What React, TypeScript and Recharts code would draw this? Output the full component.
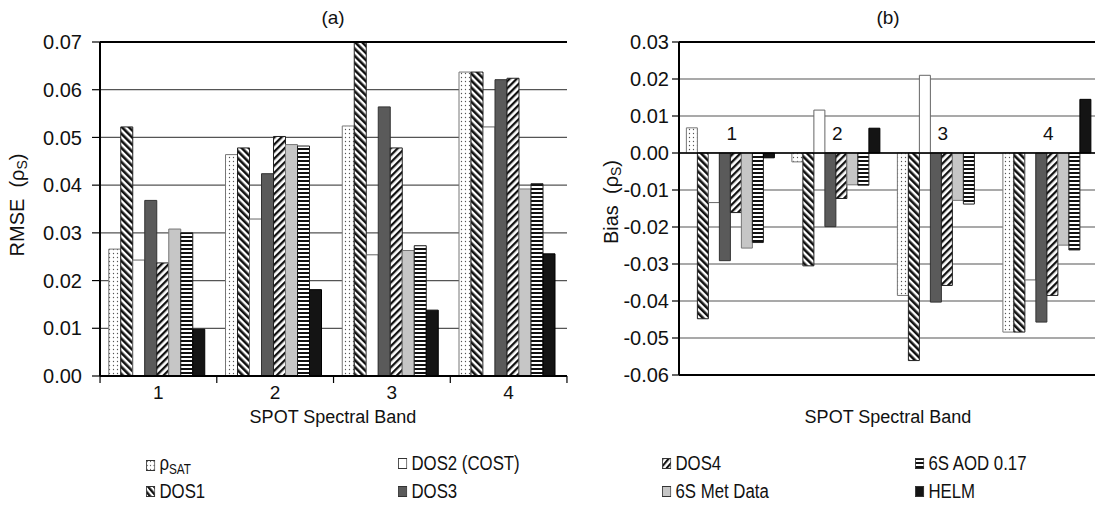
import React from 'react';
import {
  BarChart,
  Bar,
  XAxis,
  YAxis,
  CartesianGrid,
  ReferenceLine,
  ReferenceDot,
  Label
} from 'recharts';

// SPOT spectral bands
const bands = ['1', '2', '3', '4'];

// panel (a) RMSE per band
const rmseSat = [0.0266, 0.0464, 0.0524, 0.0637];
const rmseDos1 = [0.0522, 0.0478, 0.0700, 0.0637];
const rmseDos2 = [0.0243, 0.0329, 0.0254, 0.0522];
const rmseDos3 = [0.0368, 0.0424, 0.0564, 0.0621];
const rmseDos4 = [0.0237, 0.0502, 0.0478, 0.0624];
const rmseMet = [0.0308, 0.0485, 0.0263, 0.0392];
const rmseAod = [0.0300, 0.0482, 0.0273, 0.0403];
const rmseHelm = [0.0098, 0.0181, 0.0138, 0.0256];

// panel (b) bias per band
const biasSat = [0.0068, -0.0024, -0.0385, -0.0484];
const biasDos1 = [-0.0448, -0.0305, -0.0561, -0.0484];
const biasDos2 = [-0.0134, 0.0116, 0.0210, -0.0343];
const biasDos3 = [-0.0291, -0.0199, -0.0403, -0.0457];
const biasDos4 = [-0.0161, -0.0123, -0.0358, -0.0385];
const biasMet = [-0.0257, -0.0086, -0.0128, -0.0249];
const biasAod = [-0.0242, -0.0087, -0.0138, -0.0262];
const biasHelm = [-0.0013, 0.0067, 0.0, 0.0145];

const rmseTicks = [0, 0.01, 0.02, 0.03, 0.04, 0.05, 0.06, 0.07];
const biasTicks = [-0.06, -0.05, -0.04, -0.03, -0.02, -0.01, 0, 0.01, 0.02, 0.03];

const rmseData = bands.map((band, i) => ({
  band,
  sat: rmseSat[i],
  dos1: rmseDos1[i],
  dos2: rmseDos2[i],
  dos3: rmseDos3[i],
  dos4: rmseDos4[i],
  met: rmseMet[i],
  aod: rmseAod[i],
  helm: rmseHelm[i]
}));

const biasData = bands.map((band, i) => ({
  band,
  sat: biasSat[i],
  dos1: biasDos1[i],
  dos2: biasDos2[i],
  dos3: biasDos3[i],
  dos4: biasDos4[i],
  met: biasMet[i],
  aod: biasAod[i],
  helm: biasHelm[i]
}));

const series = [
  { key: 'sat', fill: 'url(#pDots)', stroke: '#777' },
  { key: 'dos1', fill: 'url(#pBack)', stroke: '#222' },
  { key: 'dos2', fill: '#ffffff', stroke: '#666' },
  { key: 'dos3', fill: '#5a5a5a', stroke: '#333' },
  { key: 'dos4', fill: 'url(#pFwd)', stroke: '#222' },
  { key: 'met', fill: '#c6c6c6', stroke: '#777' },
  { key: 'aod', fill: 'url(#pHoriz)', stroke: '#222' },
  { key: 'helm', fill: '#141414', stroke: '#000' }
];

const legendItems = [
  { key: 'sat', label: <span>ρ<sub style={{ fontSize: '0.7em', verticalAlign: '-0.25em' }}>SAT</sub></span> },
  { key: 'dos2', label: 'DOS2 (COST)' },
  { key: 'dos4', label: 'DOS4' },
  { key: 'aod', label: '6S AOD 0.17' },
  { key: 'dos1', label: 'DOS1' },
  { key: 'dos3', label: 'DOS3' },
  { key: 'met', label: '6S Met Data' },
  { key: 'helm', label: 'HELM' }
];

const FONT = '"Liberation Sans", Arial, Helvetica, sans-serif';
const PLOT_A_WIDTH = 466.7;
const BAND_A = PLOT_A_WIDTH / bands.length;

const Patterns = () => (
  <svg width={0} height={0} style={{ position: 'absolute' }}>
    <defs>
      <pattern id="pDots" width={4} height={4} patternUnits="userSpaceOnUse">
        <rect width={4} height={4} fill="#fff" />
        <circle cx={1.5} cy={1.5} r={0.65} fill="#555" />
      </pattern>
      <pattern id="pBack" width={5} height={5} patternUnits="userSpaceOnUse" patternTransform="rotate(-45)">
        <rect width={5} height={5} fill="#fff" />
        <rect width={2.6} height={5} fill="#111" />
      </pattern>
      <pattern id="pFwd" width={5} height={5} patternUnits="userSpaceOnUse" patternTransform="rotate(45)">
        <rect width={5} height={5} fill="#fff" />
        <rect width={2.3} height={5} fill="#111" />
      </pattern>
      <pattern id="pHoriz" width={4} height={4} patternUnits="userSpaceOnUse">
        <rect width={4} height={4} fill="#fff" />
        <rect width={4} height={2} fill="#111" />
      </pattern>
    </defs>
  </svg>
);

const BandTick = (props: any) => {
  const { x, y, payload, index } = props;
  const half = BAND_A / 2;
  return (
    <g>
      <text x={x} y={y + 23} textAnchor="middle" fontSize={19} fill="#111" fontFamily={FONT}>
        {payload.value}
      </text>
      <line x1={x - half} x2={x - half} y1={y} y2={y + 7} stroke="#000" strokeWidth={1.2} />
      {index === bands.length - 1 && (
        <line x1={x + half} x2={x + half} y1={y} y2={y + 7} stroke="#000" strokeWidth={1.2} />
      )}
    </g>
  );
};

const renderBars = () =>
  series.map((s) => (
    <Bar
      key={s.key}
      dataKey={s.key}
      fill={s.fill}
      stroke={s.stroke}
      strokeWidth={1}
      isAnimationActive={false}
    />
  ));

const textStyle: React.CSSProperties = {
  position: 'absolute',
  fontFamily: FONT,
  fontSize: 19,
  color: '#111',
  whiteSpace: 'nowrap'
};

export default function App() {
  return (
    <div
      style={{
        position: 'relative',
        width: 1095,
        height: 519,
        overflow: 'hidden',
        background: '#fff',
        fontFamily: FONT
      }}
    >
      <style>{'body{margin:0;overflow:hidden;background:#fff}'}</style>
      <Patterns />

      {/* panel (a) */}
      <div style={{ position: 'absolute', left: 0, top: 0 }}>
        <BarChart
          width={580}
          height={420}
          data={rmseData}
          margin={{ top: 42, right: 13, left: 40, bottom: 0 }}
          barCategoryGap="7.5%"
          barGap={0}
        >
          <CartesianGrid vertical={false} stroke="#555" strokeWidth={1.2} />
          <XAxis
            dataKey="band"
            height={44}
            axisLine={{ stroke: '#000', strokeWidth: 2 }}
            tickLine={false}
            tickSize={0}
            tickMargin={0}
            tick={<BandTick />}
            interval={0}
          />
          <YAxis
            width={60}
            domain={[0, 0.07]}
            ticks={rmseTicks}
            tickFormatter={(v: number) => v.toFixed(2)}
            axisLine={{ stroke: '#000', strokeWidth: 2 }}
            tickLine={{ stroke: '#000', strokeWidth: 1.2 }}
            tickSize={8}
            tickMargin={10}
            tick={{ fill: '#111', fontSize: 20, fontFamily: FONT }}
            interval={0}
          />
          <YAxis
            yAxisId="edge"
            orientation="right"
            width={0}
            domain={[0, 0.07]}
            tick={false}
            tickLine={false}
            axisLine={{ stroke: '#000', strokeWidth: 1.5 }}
          />
          <ReferenceLine y={0.07} stroke="#000" strokeWidth={2} />
          {renderBars()}
        </BarChart>
      </div>

      {/* panel (b) */}
      <div style={{ position: 'absolute', left: 560, top: 0 }}>
        <BarChart
          width={543}
          height={420}
          data={biasData}
          margin={{ top: 42, right: 2, left: 49, bottom: 45 }}
          barCategoryGap="7%"
          barGap={0}
        >
          <CartesianGrid vertical={false} stroke="#555" strokeWidth={1.2} />
          <XAxis dataKey="band" hide />
          <YAxis
            width={70}
            domain={[-0.06, 0.03]}
            ticks={biasTicks}
            tickFormatter={(v: number) => v.toFixed(2)}
            axisLine={{ stroke: '#000', strokeWidth: 2 }}
            tickLine={{ stroke: '#000', strokeWidth: 1.2 }}
            tickSize={7}
            tickMargin={3}
            tick={{ fill: '#111', fontSize: 20, fontFamily: FONT }}
            interval={0}
          />
          <ReferenceLine y={0.03} stroke="#000" strokeWidth={2} />
          <ReferenceLine y={-0.06} stroke="#000" strokeWidth={2} />
          {renderBars()}
          <ReferenceLine y={0} stroke="#000" strokeWidth={1.5} />
          {bands.map((b) => (
            <ReferenceDot key={b} x={b} y={0} r={1} fill="none" stroke="none">
              <Label value={b} position="top" offset={12} fontSize={19} fill="#111" fontFamily={FONT} />
            </ReferenceDot>
          ))}
        </BarChart>
      </div>

      {/* titles */}
      <div style={{ ...textStyle, left: 333, top: 7, transform: 'translateX(-50%)' }}>(a)</div>
      <div style={{ ...textStyle, left: 888, top: 7, transform: 'translateX(-50%)' }}>(b)</div>
      <div style={{ ...textStyle, fontSize: 18, left: 333, top: 407, transform: 'translateX(-50%)' }}>SPOT Spectral Band</div>
      <div style={{ ...textStyle, fontSize: 18, left: 888, top: 407, transform: 'translateX(-50%)' }}>SPOT Spectral Band</div>
      <div
        style={{
          ...textStyle,
          fontSize: 20,
          left: 18,
          top: 205,
          transform: 'translate(-50%, -50%) rotate(-90deg)'
        }}
      >
        RMSE&nbsp; (ρ<sub style={{ fontSize: '0.7em', verticalAlign: '-0.2em' }}>S</sub>)
      </div>
      <div
        style={{
          ...textStyle,
          fontSize: 20,
          left: 612,
          top: 202,
          transform: 'translate(-50%, -50%) rotate(-90deg)'
        }}
      >
        Bias&nbsp; (ρ<sub style={{ fontSize: '0.7em', verticalAlign: '-0.2em' }}>S</sub>)
      </div>

      {/* legend */}
      {legendItems.map((item, i) => {
        const s = series.find((x) => x.key === item.key)!;
        const col = i % 4;
        const row = Math.floor(i / 4);
        return (
          <div
            key={item.key}
            style={{
              ...textStyle,
              fontSize: 20,
              left: [146, 398, 662, 915][col],
              top: 452 + row * 28,
              display: 'flex',
              alignItems: 'center',
              lineHeight: '22px',
              transform: 'scaleX(0.84)',
              transformOrigin: 'left center'
            }}
          >
            <svg width={11} height={11} style={{ marginRight: 5 }}>
              <rect x={0.5} y={0.5} width={10} height={10} fill={s.fill} stroke="#333" strokeWidth={1} />
            </svg>
            {item.label}
          </div>
        );
      })}
    </div>
  );
}
